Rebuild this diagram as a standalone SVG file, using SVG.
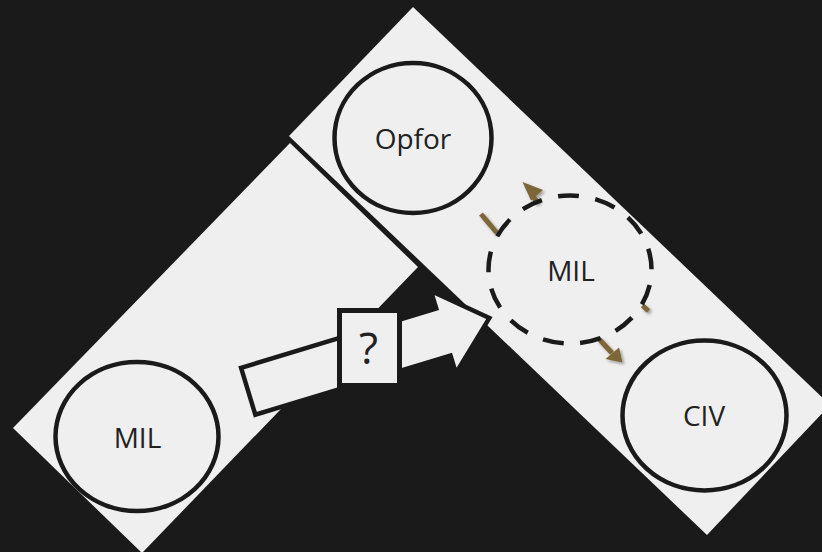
<svg xmlns="http://www.w3.org/2000/svg" width="822" height="552" viewBox="0 0 822 552">
<defs>
<style>
.panel{fill:#efefef;stroke:none}
.node{fill:#efefef;stroke:#1a1a1a;stroke-width:4.5}
.lbl{font-family:"Open Sans","DejaVu Sans",sans-serif;font-size:28px;fill:#222;text-anchor:middle}
.brown{stroke:#7d6637;stroke-width:5;fill:none}
.brownhead{fill:#7d6637;stroke:none}
</style>
<filter id="sh" x="-50%" y="-50%" width="200%" height="200%">
<feDropShadow dx="2" dy="2" stdDeviation="1.5" flood-color="#000" flood-opacity="0.35"/>
</filter>
</defs>
<rect x="0" y="0" width="822" height="552" fill="#1a1a1a"/>
<g id="panels">
<polygon class="panel" points="289,136 413,7 830,405 707,535"/>
<polygon class="panel" points="13,428 290,143 418,267 142,553"/>
</g>
<g id="node-mil-left">
<ellipse class="node" cx="137" cy="436.5" rx="81.5" ry="74.5"/>
<text class="lbl" x="137.5" y="448">MIL</text>
</g>
<g id="node-opfor">
<ellipse class="node" cx="413" cy="138" rx="78.5" ry="75"/>
<text class="lbl" x="413" y="149">Opfor</text>
</g>
<g id="node-civ">
<ellipse class="node" cx="704.5" cy="415.5" rx="82" ry="75"/>
<text class="lbl" x="704" y="426">CIV</text>
</g>
<g id="connectors">
<g id="arrow-question">
<polygon transform="translate(248.2,391.3) rotate(-16.9)" points="0,-24.5 204,-24.5 204,-43 252,0 204,43 204,24.5 0,24.5" fill="#efefef" stroke="#1a1a1a" stroke-width="4.5" stroke-linejoin="miter"/>
<rect x="339.5" y="310.5" width="60" height="75" fill="#efefef" stroke="#1a1a1a" stroke-width="5"/>
<text class="lbl" x="368.5" y="364" style="font-size:44px">?</text>
</g>
<g id="cycle-arrows" filter="url(#sh)">
<line class="brown" x1="481" y1="214" x2="497" y2="233"/>
<line class="brown" x1="538" y1="203" x2="532" y2="195"/>
<polygon class="brownhead" points="522.5,182 543,190 531,200.5"/>
<line class="brown" x1="642.5" y1="305.5" x2="648.5" y2="311"/>
<line class="brown" x1="599" y1="339" x2="612" y2="353"/>
<polygon class="brownhead" points="622.5,362.5 605.5,359 619,347.5"/>
</g>
</g>
<g id="node-mil-center">
<path d="M651.5,269.5 A81.5,74 0 1 1 488.5,269.5 A81.5,74 0 1 1 651.5,269.5" fill="none" stroke="#1a1a1a" stroke-width="4.5" stroke-dasharray="21 16.6" stroke-dashoffset="22"/>
<text class="lbl" x="571" y="280.5">MIL</text>
</g>
</svg>
